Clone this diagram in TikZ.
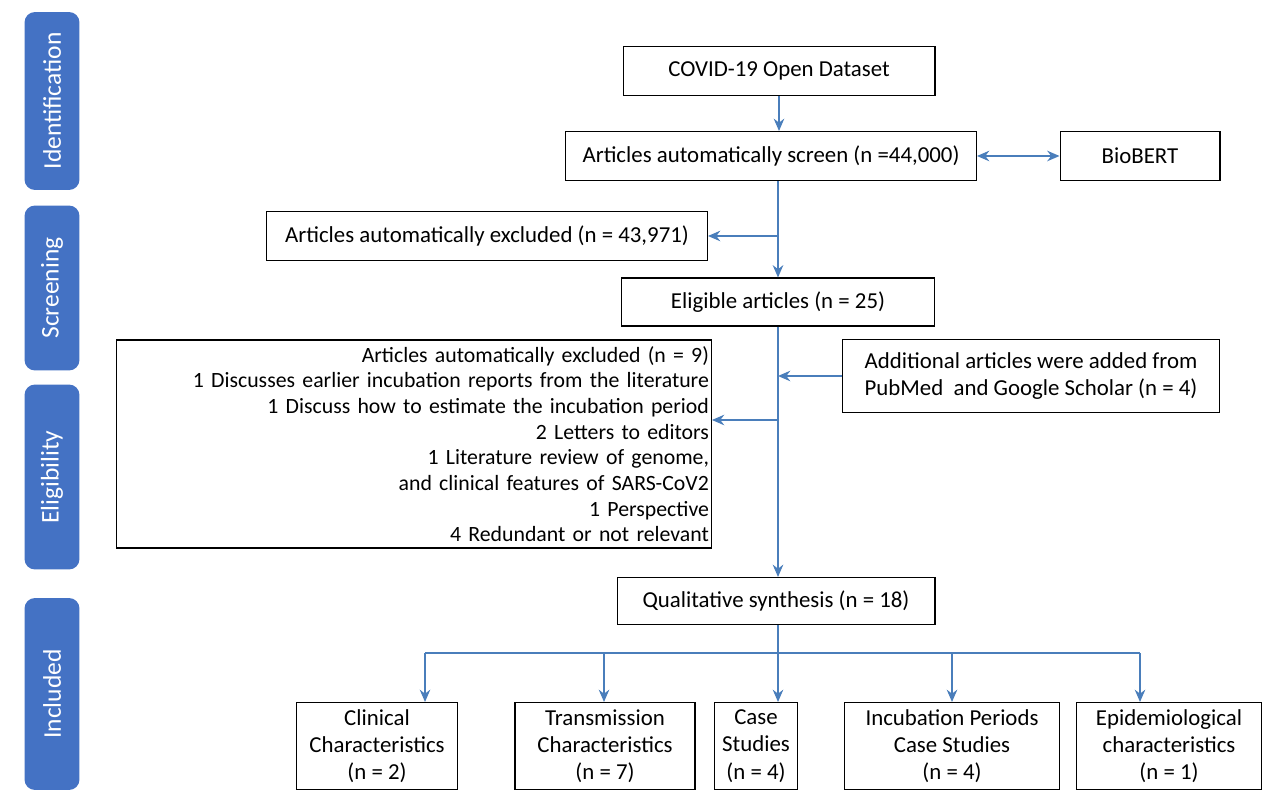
\documentclass[tikz,border=0pt]{standalone}
\usepackage{fontspec}
\setmainfont{Carlito}
\usetikzlibrary{arrows.meta}
\definecolor{flowblue}{HTML}{4A7EBB}
\definecolor{phaseblue}{HTML}{4472C4}
\tikzset{
  phase/.style = {rotate = 90, fill = phaseblue, rounded corners = 6pt,
    text = white, minimum height = 1.1cm, font = \fontsize{14.5}{17}\selectfont},
  stepbox/.style = {draw = black, line width = 0.6pt, align = center,
    font = \fontsize{13}{15.5}\selectfont, inner sep = 2pt},
  flow/.style = {draw = flowblue, line width = 0.9pt, -{Stealth[length = 7pt, width = 6pt]}}
}
\begin{document}
\begin{tikzpicture}[x = 0.02cm, y = -0.02cm]
  \useasboundingbox (0, 0) rectangle (1280, 810);

  % phases
  \node[phase, minimum width = 3.56cm] (ident) at (52, 101) {Identification};
  \node[phase, minimum width = 3.3cm] (screening) at (52, 288) {Screening};
  \node[phase, minimum width = 3.7cm] (eligibility) at (52, 477) {Eligibility};
  \node[phase, minimum width = 3.84cm] (included) at (52, 694) {Included};

  % main boxes
  \node[stepbox, minimum width = 6.24cm, minimum height = 0.98cm] (dataset) at (779, 71) {COVID-19 Open Dataset};
  \node[stepbox, minimum width = 8.22cm, minimum height = 0.98cm] (screen) at (771, 156) {Articles automatically screen (n =44,000)};
  \node[stepbox, minimum width = 3.2cm, minimum height = 0.98cm] (biobert) at (1140, 156) {BioBERT};
  \node[stepbox, minimum width = 8.82cm, minimum height = 0.98cm] (excla) at (487, 236) {Articles automatically excluded (n = 43,971)};
  \node[stepbox, minimum width = 6.26cm, minimum height = 0.96cm] (elig) at (778, 302) {Eligible articles (n = 25)};
  \node[stepbox, minimum width = 11.9cm, minimum height = 4.16cm, text width = 11.8cm,
    inner xsep = 1pt, align = right, font = \fontsize{12.4}{14.6}\selectfont] (exclb) at (414, 444) {Articles automatically excluded (n = 9)\\
    1 Discusses earlier incubation reports from the literature\\
    1 Discuss how to estimate the incubation period\\
    2 Letters to editors\\
    1 Literature review of genome, and clinical features of SARS-CoV2\\
    1 Perspective\\
    4 Redundant or not relevant};
  \node[stepbox, minimum width = 7.54cm, minimum height = 1.46cm] (added) at (1031, 376) {Additional articles were added from\\PubMed\ \ and Google Scholar (n = 4)};
  \node[stepbox, minimum width = 6.36cm, minimum height = 0.94cm] (qual) at (776, 601) {Qualitative synthesis (n = 18)};

  % outcome boxes
  \node[stepbox, minimum width = 3.22cm, minimum height = 1.74cm] (clinical) at (377, 746) {Clinical\\Characteristics\\(n = 2)};
  \node[stepbox, minimum width = 3.6cm, minimum height = 1.74cm] (trans) at (605, 746) {Transmission\\Characteristics\\(n = 7)};
  \node[stepbox, minimum width = 1.66cm, minimum height = 1.74cm] (cases) at (756, 746) {Case\\Studies\\(n = 4)};
  \node[stepbox, minimum width = 4.3cm, minimum height = 1.74cm] (incub) at (952, 746) {Incubation Periods\\Case Studies\\(n = 4)};
  \node[stepbox, minimum width = 3.7cm, minimum height = 1.74cm] (epi) at (1169, 746) {Epidemiological\\characteristics\\(n = 1)};

  % connectors
  \draw[flow] (dataset) -- (dataset |- screen.north);
  \draw[flow, {Stealth[length = 7pt, width = 6pt]}-{Stealth[length = 7pt, width = 6pt]}] (screen) -- (biobert);
  \draw[flow] (screen.south -| elig) -- (elig.north);
  \draw[flow] (elig |- excla) -- (excla.east);
  \draw[flow] (elig.south) -- (elig.south |- qual.north);
  \draw[flow] (added.west) -- (elig |- added.west);
  \coordinate (split) at (778, 420);
  \draw[flow] (split) -- (exclb.east |- split);

  \coordinate (bus) at (778, 653);
  \draw[draw = flowblue, line width = 0.9pt] (qual.south -| bus) -- (bus)
    (425, 653) -- (1140, 653);
  \foreach \x/\child in {425/clinical, 604/trans, 778/cases, 952/incub, 1140/epi}{
    \draw[flow] (\x, 653) -- (\x, 653 |- \child.north);
  }
\end{tikzpicture}
\end{document}
